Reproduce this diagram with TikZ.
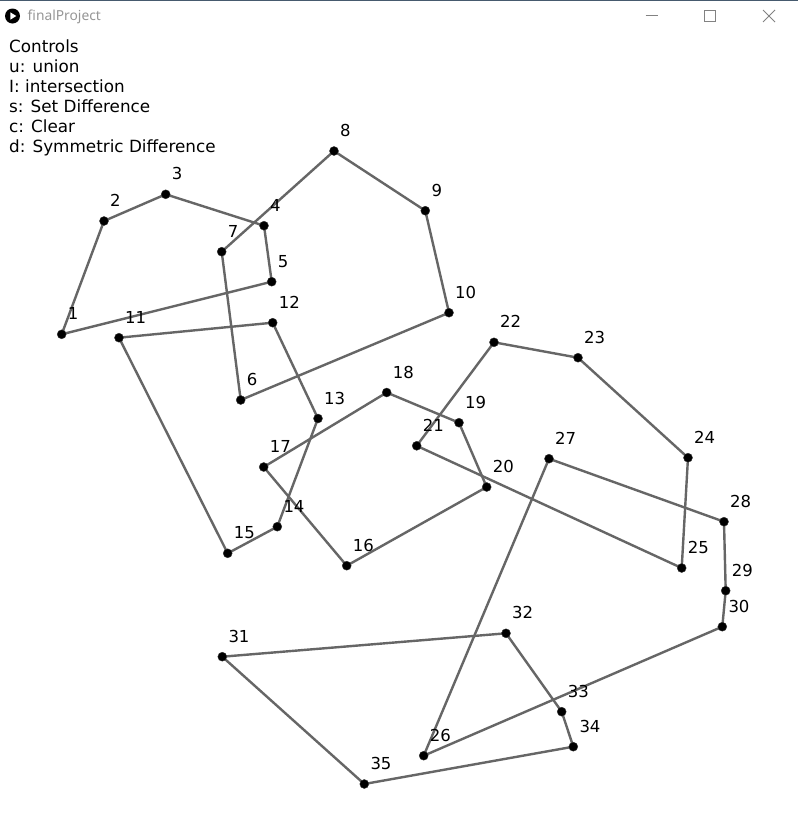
\documentclass[tikz,border=0pt]{standalone}
\usepackage{fontspec}
\newfontfamily\dv{DejaVu Sans}
\newfontfamily\uifont{Noto Sans}
\definecolor{edgegray}{RGB}{102,102,102}
\definecolor{titlegray}{RGB}{150,150,150}
\definecolor{btngray}{RGB}{130,130,130}
\definecolor{topline}{RGB}{70,90,110}
\begin{document}
\begin{tikzpicture}[x=1pt,y=-1pt,
  edge/.style={draw=edgegray,line width=2.4pt,line cap=round,line join=round},
  dot/.style={circle,fill=black,draw=black!80,line width=0.4pt,inner sep=0pt,minimum size=9pt},
  lbl/.style={anchor=base west,inner sep=0pt,font=\dv\fontsize{16.5}{20}\selectfont,xshift=6pt,yshift=14.5pt},
  ctl/.style={anchor=base west,inner sep=0pt,font=\dv\fontsize{16.8}{20}\selectfont},
  btn/.style={draw=btngray,line width=1pt}]
\useasboundingbox (0,0) rectangle (798,831);
\fill[white] (0,0) rectangle (798,831);
% title bar
\fill[topline] (0,0) rectangle (798,1.3);
\node[circle,fill=black,inner sep=0pt,minimum size=15pt] (icon) at (12.5,16) {};
\fill[white] (10.3,12.3) -- (10.3,19.7) -- (16.3,16) -- cycle;
\node[anchor=base west,inner sep=0pt,text=titlegray,font=\uifont\fontsize{13.8}{16}\selectfont] (title) at (27.5,20.7) {finalProject};
\draw[btn] (645.5,15.5) -- (658,15.5);
\draw[btn] (704.5,10.5) rectangle (715.5,21.5);
\draw[btn] (763,10) -- (775,22);
\draw[btn] (763,22) -- (775,10);
% controls text
\node[ctl] (t1) at (9,52.3) {Controls};
\node[ctl] (t2) at (9,72.3) {u: union};
\node[ctl] (t3) at (9,92.3) {I: intersection};
\node[ctl] (t4) at (9,112.3) {s: Set Difference};
\node[ctl] (t5) at (9,132.3) {c: Clear};
\node[ctl] (t6) at (9,152.3) {d: Symmetric Difference};
% points
\coordinate (c1) at (61.7,334.3);
\coordinate (c2) at (104,221);
\coordinate (c3) at (165.7,194.3);
\coordinate (c4) at (264,225.7);
\coordinate (c5) at (271.7,281.7);
\coordinate (c6) at (240.7,400);
\coordinate (c7) at (221.7,251.7);
\coordinate (c8) at (334,151);
\coordinate (c9) at (425.3,210.7);
\coordinate (c10) at (449,312.7);
\coordinate (c11) at (119,337.7);
\coordinate (c12) at (272.7,322.7);
\coordinate (c13) at (318,418.5);
\coordinate (c14) at (277.3,526.7);
\coordinate (c15) at (227.7,553.3);
\coordinate (c16) at (346.7,565.7);
\coordinate (c17) at (263.7,467);
\coordinate (c18) at (386.7,392.5);
\coordinate (c19) at (459,422.7);
\coordinate (c20) at (486.7,487);
\coordinate (c21) at (416.7,445.8);
\coordinate (c22) at (494,342.3);
\coordinate (c23) at (578,357.7);
\coordinate (c24) at (688,457.7);
\coordinate (c25) at (681.7,568);
\coordinate (c26) at (423.7,755.7);
\coordinate (c27) at (549,458.7);
\coordinate (c28) at (724,521.7);
\coordinate (c29) at (725.7,590.7);
\coordinate (c30) at (722.3,626.7);
\coordinate (c31) at (222.3,656.7);
\coordinate (c32) at (506,633.3);
\coordinate (c33) at (561.7,711.7);
\coordinate (c34) at (573.3,746.7);
\coordinate (c35) at (364.3,784);
% edges
\draw[edge] (c1) -- (c2) -- (c3) -- (c4) -- (c5) -- cycle;
\draw[edge] (c6) -- (c7) -- (c8) -- (c9) -- (c10) -- cycle;
\draw[edge] (c11) -- (c12) -- (c13) -- (c14) -- (c15) -- cycle;
\draw[edge] (c16) -- (c17) -- (c18) -- (c19) -- (c20) -- cycle;
\draw[edge] (c21) -- (c22) -- (c23) -- (c24) -- (c25) -- cycle;
\draw[edge] (c26) -- (c27) -- (c28) -- (c29) -- (c30) -- cycle;
\draw[edge] (c31) -- (c32) -- (c33) -- (c34) -- (c35) -- cycle;
% dots and labels
\foreach \i in {1,...,35} {
  \node[dot] (p\i) at (c\i) {};
  \node[lbl] (l\i) at (c\i) {\i};
}
\end{tikzpicture}
\end{document}
